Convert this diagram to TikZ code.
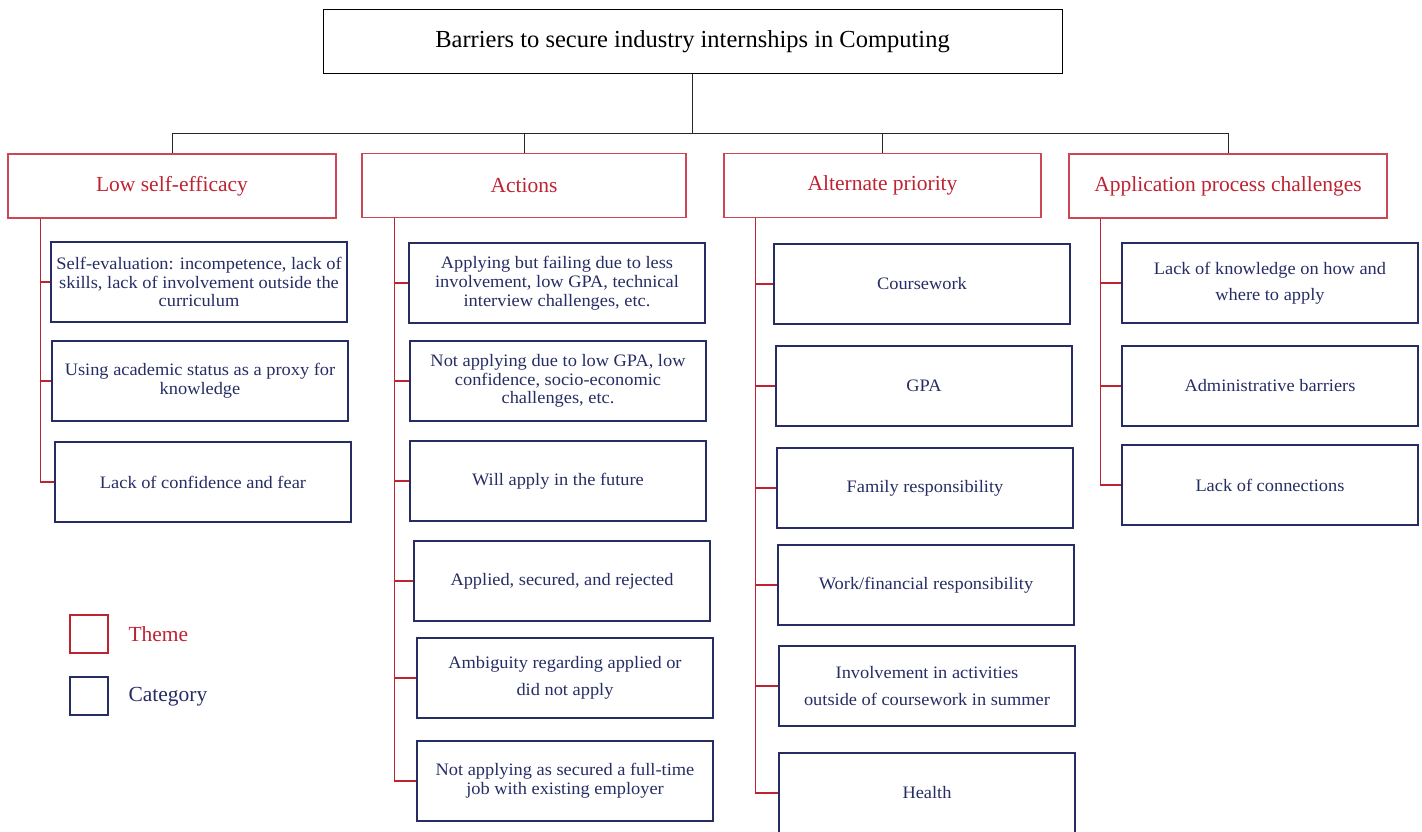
\documentclass[tikz,border=0pt]{standalone}
\usepackage{fontspec}
\setmainfont{Liberation Serif}
\newfontfamily\catfont[FakeStretch=1.05]{Liberation Serif}
\definecolor{themered}{RGB}{190,35,50}
\definecolor{themeline}{RGB}{205,70,85}
\definecolor{catblue}{RGB}{38,45,100}
\begin{document}
\begin{tikzpicture}[x=1pt,y=-1pt,
  titlebox/.style={draw=black,line width=1pt,minimum width=739pt,minimum height=64pt,inner sep=0pt,font=\fontsize{24.5}{28}\selectfont},
  themebox/.style={draw=themeline,line width=1.2pt,minimum width=#1,minimum height=64pt,inner sep=0pt,text=themered,font=\fontsize{21.5}{25}\selectfont},
  catbox/.style={draw=catblue,line width=1.1pt,minimum width=296pt,minimum height=80pt,inner sep=0pt,text=catblue,align=center,font=\catfont\fontsize{17.5}{18.8}\selectfont},
  widecat/.style={catbox,font=\catfont\fontsize{17.5}{26.5}\selectfont},
  blk/.style={draw=black!85,line width=1pt},
  rl/.style={draw=themered,line width=1.4pt},
  legbox/.style={minimum width=38pt,minimum height=38pt,inner sep=0pt,line width=1.1pt},
  legtext/.style={anchor=west,font=\fontsize{21.5}{25}\selectfont}]
\useasboundingbox (0,0) rectangle (1422,832);
% title
\node[titlebox] (title) at (692.5,42) {\raisebox{-2pt}{Barriers to secure industry internships in Computing}};
% themes
\node[themebox=328pt] (t1) at (172,186) {Low self-efficacy};
\node[themebox=324pt] (t2) at (524,185.5) {Actions};
\node[themebox=317pt] (t3) at (882.5,185.5) {Alternate priority};
\node[themebox=318pt] (t4) at (1228,186) {Application process challenges};
\coordinate (j) at (692.5,134);
\draw[blk] (title.south) -- (j);
\draw[blk] (t1.north) -- (t1.north |- j) -- (t4.north |- j) -- (t4.north);
\draw[blk] (t2.north) -- (t2.north |- j);
\draw[blk] (t3.north) -- (t3.north |- j);
% column 1
\node[catbox] (c11) at (199,282) {Self-evaluation: incompetence, lack of\\skills, lack of involvement outside the\\curriculum};
\node[catbox] (c12) at (200,381) {Using academic status as a proxy for\\knowledge};
\node[catbox] (c13) at (203,482) {Lack of confidence and fear};
% column 2
\node[catbox] (c21) at (557,283) {Applying but failing due to less\\involvement, low GPA, technical\\interview challenges, etc.};
\node[catbox] (c22) at (558,381) {Not applying due to low GPA, low\\confidence, socio-economic\\challenges, etc.};
\node[catbox] (c23) at (558,481) {Will apply in the future};
\node[catbox] (c24) at (562,581) {Applied, secured, and rejected};
\node[widecat] (c25) at (565,678) {Ambiguity regarding applied or\\did not apply};
\node[catbox] (c26) at (565,781) {Not applying as secured a full-time\\job with existing employer};
% column 3
\node[catbox] (c31) at (922,284) {Coursework};
\node[catbox] (c32) at (924,386) {GPA};
\node[catbox] (c33) at (925,488) {Family responsibility};
\node[catbox] (c34) at (926,585) {Work/financial responsibility};
\node[widecat] (c35) at (927,686) {Involvement in activities\\outside of coursework in summer};
\node[catbox] (c36) at (927,793) {Health};
% column 4
\node[widecat] (c41) at (1270,283) {Lack of knowledge on how and\\where to apply};
\node[catbox] (c42) at (1270,386) {Administrative barriers};
\node[catbox] (c43) at (1270,485) {Lack of connections};
% red connectors
\coordinate (r1) at ([xshift=33pt]t1.south west);
\coordinate (r2) at ([xshift=33pt]t2.south west);
\coordinate (r3) at ([xshift=32pt]t3.south west);
\coordinate (r4) at ([xshift=32pt]t4.south west);
\foreach \c in {c11,c12,c13} \draw[rl] (r1) |- (\c.west);
\foreach \c in {c21,c22,c23,c24,c25,c26} \draw[rl] (r2) |- (\c.west);
\foreach \c in {c31,c32,c33,c34,c35,c36} \draw[rl] (r3) |- (\c.west);
\foreach \c in {c41,c42,c43} \draw[rl] (r4) |- (\c.west);
% legend
\node[legbox,draw=themered] (lt) at (89,634) {};
\node[legtext,text=themered] (ltt) at (125,634) {Theme};
\node[legbox,draw=catblue] (lc) at (89,696) {};
\node[legtext,text=catblue] (lct) at (125,697) {Category};
\end{tikzpicture}
\end{document}
